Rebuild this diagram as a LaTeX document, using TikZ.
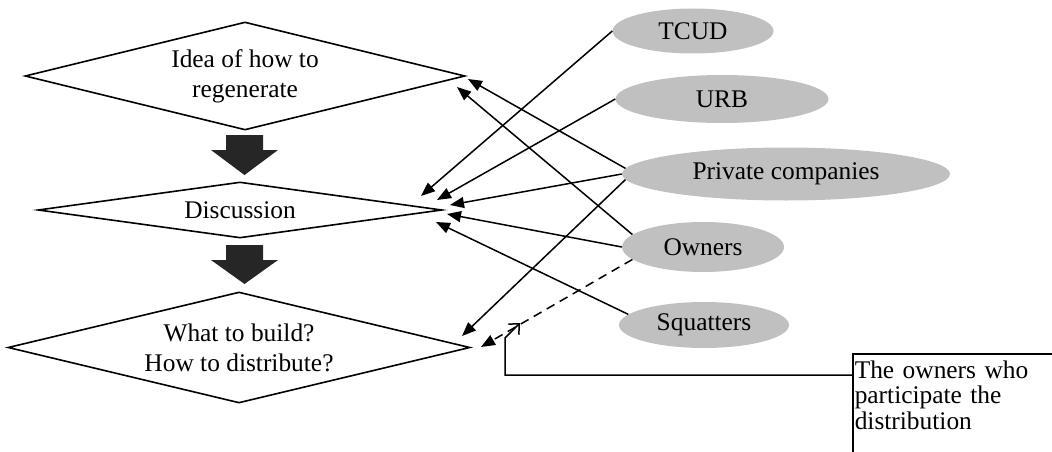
\documentclass[tikz,border=0pt]{standalone}
\usepackage{fontspec}
\setmainfont{Liberation Serif}
\usetikzlibrary{shapes.geometric,arrows.meta,calc}

\definecolor{actorgray}{RGB}{192,192,192}
\definecolor{blockfill}{RGB}{38,38,38}

\begin{document}
\begin{tikzpicture}[x=1pt,y=-1pt,
  every node/.style={font=\fontsize{25.4}{30}\selectfont},
  decision/.style={shape=diamond, draw, line width=1.6pt, inner sep=0pt, align=center},
  actor/.style={shape=ellipse, fill=actorgray, inner sep=0pt},
  link/.style={line width=1.5pt, -{Triangle[length=14pt,width=11pt]}},
  influence/.style={link, dash pattern=on 9pt off 6pt},
  callout/.style={line width=1.5pt, -{Straight Barb[length=8pt,width=15pt]}},
  notebox/.style={draw, line width=1.5pt, align=left, text width=210pt,
    inner xsep=2pt, inner ysep=7pt, text depth=110pt,
    font=\fontsize{25.4}{25.5}\selectfont},
  blockarrow/.style={fill=blockfill}
]
\useasboundingbox (0,0) rectangle (1052,452);
\clip (0,0) rectangle (1052,452);

% decision stages
\node[decision, minimum width=440pt, minimum height=108pt, aspect=4.07] (idea) at (245,76) {Idea of how to\\regenerate};
\node[decision, minimum width=404pt, minimum height=56pt, aspect=7.2] (disc) at (240,210) {Discussion};
\node[decision, minimum width=462pt, minimum height=111pt, aspect=4.16] (build) at (239,347.5) {What to build?\\How to distribute?};

% block arrows between stages
\fill[blockarrow, shift={(244.5,135)}] (-18.5,0) -- (18.5,0) -- (18.5,15) -- (33.5,15) -- (0,40) -- (-33.5,15) -- (-18.5,15) -- cycle;
\fill[blockarrow, shift={(244.5,245)}] (-18.5,0) -- (18.5,0) -- (18.5,15) -- (33.5,15) -- (0,39) -- (-33.5,15) -- (-18.5,15) -- cycle;

% actors
\node[actor, minimum width=161pt, minimum height=45pt] (tcud) at (693,31) {TCUD};
\node[actor, minimum width=213pt, minimum height=48pt] (urb) at (722,99) {URB};
\node[actor, minimum width=328pt, minimum height=53pt] (pc) at (786,174) {Private companies};
\node[actor, minimum width=162pt, minimum height=50pt] (own) at (703,247) {Owners};
\node[actor, minimum width=170pt, minimum height=46pt] (sq) at (704,325) {Squatters};

% arrow ends next to the right corners of the stages
\coordinate (ideaA) at (468,79);
\coordinate (ideaB) at (457,87);
\coordinate (discA) at (421,196);
\coordinate (discB) at (437,200);
\coordinate (discC) at (450,205);
\coordinate (discD) at (447,214);
\coordinate (discE) at (436,222);
\coordinate (buildA) at (462,336);
\coordinate (buildB) at (481,347);

% participation links
\draw[link] (pc.178) -- (ideaA);
\draw[link] (own.170) -- (ideaB);
\draw[link] (tcud.west) -- (discA);
\draw[link] (urb.west) -- (discB);
\draw[link] (pc.180) -- (discC);
\draw[link] (own.180) -- (discD);
\draw[link] (sq.172) -- (discE);
\draw[link] (pc.182) -- (buildA);
\draw[influence] (own.190) -- (buildB);

% note with its pointer
\node[notebox, anchor=north west] (note) at (852,353) {The owners who\\participate the\\distribution};
\coordinate (noteIn) at ($(note.north west)+(0,22)$);
\coordinate (calloutBend) at (505,338);
\coordinate (calloutTip) at (520,323);
\draw[callout] (noteIn) -| (calloutBend) -- (calloutTip);
\end{tikzpicture}
\end{document}
